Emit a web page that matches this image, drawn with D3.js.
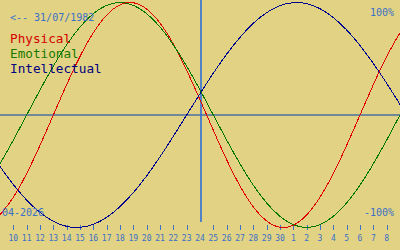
<!DOCTYPE html>
<html>
<head>
<meta charset="utf-8">
<script src="https://cdn.jsdelivr.net/npm/d3@7"></script>
<style>
	body { margin: 0; background: #e2d283; }
	svg { display: block; }
	.mono { font-family: "DejaVu Sans Mono", monospace; }
	.curve { fill: none; stroke-width: 1; shape-rendering: crispEdges; }
</style>
</head>
<body>
<div id="chart"></div>
<script>
// days shown: 9 April .. 9 May 2026, today = 24
var dayLabels = ["9","10","11","12","13","14","15","16","17","18","19","20","21","22","23","24",
	"25","26","27","28","29","30","1","2","3","4","5","6","7","8","9"];
var physical = [-0.888,-0.731,-0.520,-0.270,0,0.270,0.520,0.731,0.888,0.979,0.998,0.942,0.817,0.631,0.398,0.136,
	-0.136,-0.398,-0.631,-0.817,-0.942,-0.998,-0.979,-0.888,-0.731,-0.520,-0.270,0,0.270,0.520,0.731];
var emotional = [-0.434,-0.223,0,0.223,0.434,0.624,0.782,0.901,0.975,1,0.975,0.901,0.782,0.624,0.434,0.223,
	0,-0.223,-0.434,-0.624,-0.782,-0.901,-0.975,-1,-0.975,-0.901,-0.782,-0.624,-0.434,-0.223,0];
var intellectual = [-0.458,-0.618,-0.756,-0.866,-0.945,-0.990,-0.999,-0.972,-0.910,-0.815,-0.690,-0.541,-0.372,-0.189,0,0.189,
	0.372,0.541,0.690,0.815,0.910,0.972,0.999,0.990,0.945,0.866,0.756,0.618,0.458,0.282,0.095];
var series = [
	{name: "Physical", values: physical, color: "#e00000", text: "#d40000"},
	{name: "Emotional", values: emotional, color: "#007800", text: "#1a7a00"},
	{name: "Intellectual", values: intellectual, color: "#000090", text: "#000080"}
];
var birthLabel = "<-- 31/07/1982";
var monthLabel = "04-2026";
var todayIndex = 15;

var W = 400, H = 250;
var blue = "#3a70c8";

var svg = d3.select("#chart").append("svg").attr("width", W).attr("height", H);
svg.append("rect").attr("width", W).attr("height", H).attr("fill", "#e2d283");

var x = d3.scaleLinear().domain([0, dayLabels.length - 1]).range([0, W]);
var y = d3.scaleLinear().domain([-1, 1]).range([227.5, 2.5]);

// zero line + today line
svg.append("line").attr("x1", 0).attr("x2", W).attr("y1", y(0)).attr("y2", y(0))
	.attr("stroke", "#4a6fa0").attr("stroke-width", 1.5);
svg.append("line").attr("x1", x(todayIndex) + 1).attr("x2", x(todayIndex) + 1).attr("y1", 0).attr("y2", 222)
	.attr("stroke", "#2f6fd6").attr("stroke-width", 1.6);

// day ticks
var idx = d3.range(1, dayLabels.length - 1);
svg.selectAll(".tick").data(idx.filter(function(i){ return i != todayIndex; })).enter()
	.append("line").attr("class", "tick")
	.attr("x1", function(i){ return Math.round(x(i)) + 0.5; })
	.attr("x2", function(i){ return Math.round(x(i)) + 0.5; })
	.attr("y1", 225).attr("y2", 230)
	.attr("stroke", blue).attr("stroke-width", 1);
svg.selectAll(".daylabel").data(idx).enter()
	.append("text").attr("class", "daylabel mono")
	.attr("x", function(i){ return x(i); })
	.attr("y", 241)
	.attr("text-anchor", "middle")
	.attr("font-size", "8px")
	.attr("fill", blue)
	.text(function(i){ return dayLabels[i]; });

// curves
var line = d3.line()
	.x(function(d, i){ return x(i); })
	.y(function(d){ return y(d); })
	.curve(d3.curveNatural);
svg.selectAll(".curve").data(series).enter()
	.append("path").attr("class", "curve")
	.attr("stroke", function(d){ return d.color; })
	.attr("d", function(d){ return line(d.values); });

// texts
svg.append("text").attr("class", "mono").attr("x", 10).attr("y", 21)
	.attr("font-size", "10px").attr("fill", blue).text(birthLabel);
svg.selectAll(".legend").data(series).enter()
	.append("text").attr("class", "legend mono")
	.attr("x", 10).attr("y", function(d, i){ return 43 + i * 15; })
	.attr("font-size", "12.7px")
	.attr("fill", function(d){ return d.text; })
	.text(function(d){ return d.name; });
svg.append("text").attr("class", "mono").attr("x", 394).attr("y", 16)
	.attr("text-anchor", "end").attr("font-size", "10px").attr("fill", blue).text("100%");
svg.append("text").attr("class", "mono").attr("x", 394).attr("y", 216)
	.attr("text-anchor", "end").attr("font-size", "10px").attr("fill", blue).text("-100%");
svg.append("text").attr("class", "mono").attr("x", 2).attr("y", 216)
	.attr("font-size", "10px").attr("fill", blue).text(monthLabel);
</script>
</body>
</html>
